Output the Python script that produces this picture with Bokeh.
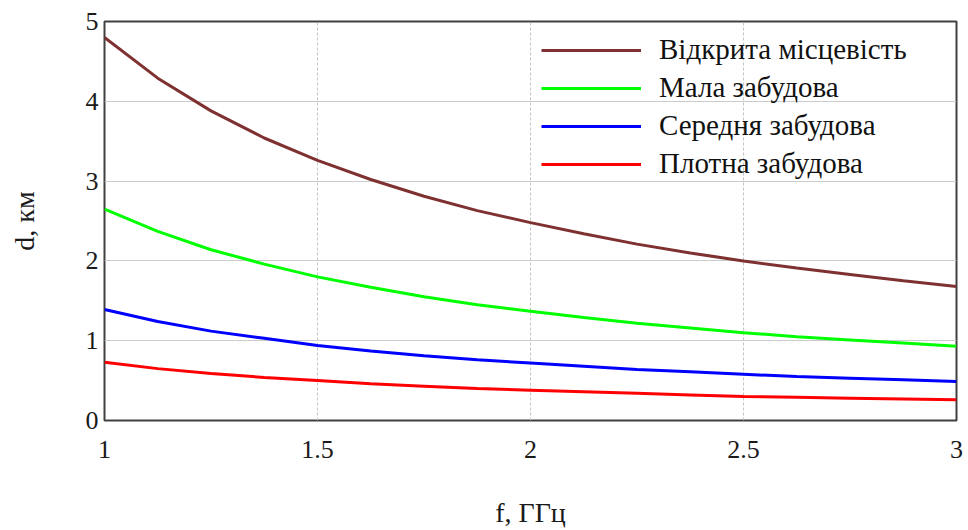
from bokeh.plotting import figure
from bokeh.models import Legend, LegendItem, Range1d, FixedTicker
from bokeh.embed import file_html
from bokeh.resources import INLINE

# Frequency, GHz
freq = [1.0, 1.125, 1.25, 1.375, 1.5, 1.625, 1.75, 1.875, 2.0,
        2.125, 2.25, 2.375, 2.5, 2.625, 2.75, 2.875, 3.0]
# Distance, km
open_area = [4.80, 4.29, 3.88, 3.54, 3.26, 3.02, 2.81, 2.63, 2.48,
             2.34, 2.21, 2.10, 2.00, 1.91, 1.83, 1.75, 1.68]
low_build = [2.65, 2.37, 2.14, 1.96, 1.80, 1.67, 1.55, 1.45, 1.37,
             1.29, 1.22, 1.16, 1.10, 1.05, 1.01, 0.97, 0.93]
mid_build = [1.39, 1.24, 1.12, 1.03, 0.94, 0.87, 0.81, 0.76, 0.72,
             0.68, 0.64, 0.61, 0.58, 0.55, 0.53, 0.51, 0.49]
dense_build = [0.73, 0.65, 0.59, 0.54, 0.50, 0.46, 0.43, 0.40, 0.38,
               0.36, 0.34, 0.32, 0.30, 0.29, 0.28, 0.27, 0.26]

series_names = ["Відкрита місцевість", "Мала забудова", "Середня забудова", "Плотна забудова"]
series_colors = ["#7f3030", "#00ff00", "#0000ff", "#ff0000"]
x_ticks = [1, 1.5, 2, 2.5, 3]
y_ticks = [0, 1, 2, 3, 4, 5]

FONT = "Liberation Serif"

p = figure(width=964, height=530, output_backend="svg", toolbar_location=None,
           x_range=Range1d(1, 3), y_range=Range1d(0, 5),
           min_border_left=104, min_border_right=8, min_border_top=21, min_border_bottom=109)
p.background_fill_color = "white"
p.border_fill_color = "white"
p.outline_line_color = "#404040"
p.outline_line_width = 2

p.xaxis.ticker = FixedTicker(ticks=x_ticks)
p.yaxis.ticker = FixedTicker(ticks=y_ticks)
for ax in (p.xaxis[0], p.yaxis[0]):
    ax.axis_line_color = None
    ax.major_tick_line_color = None
    ax.minor_tick_line_color = None
    ax.major_tick_out = 0
    ax.major_tick_in = 0
    ax.major_label_text_font = FONT
    ax.major_label_text_font_size = "26px"
    ax.major_label_text_color = "#1a1a1a"
    ax.axis_label_text_font = FONT
    ax.axis_label_text_font_size = "28px"
    ax.axis_label_text_font_style = "normal"
    ax.axis_label_text_color = "#1a1a1a"

p.xaxis.axis_label = "f, ГГц"
p.yaxis.axis_label = "d, км"
p.xaxis.major_label_standoff = 20
p.yaxis.major_label_standoff = 6
p.xaxis.axis_label_standoff = 36
p.yaxis.axis_label_standoff = 43

p.xgrid.ticker = FixedTicker(ticks=x_ticks)
p.ygrid.ticker = FixedTicker(ticks=y_ticks)
p.xgrid.grid_line_color = "#c4c4c4"
p.xgrid.grid_line_dash = "3 2"
p.ygrid.grid_line_color = "#cccccc"
p.xgrid.grid_line_width = 1
p.ygrid.grid_line_width = 1

items = []
for name, color, ys in zip(series_names, series_colors,
                           [open_area, low_build, mid_build, dense_build]):
    r = p.line(freq, ys, line_color=color, line_width=3)
    items.append(LegendItem(label=name, renderers=[r]))

legend = Legend(items=items, location=(437, 240))
legend.background_fill_alpha = 0
legend.border_line_color = None
legend.label_text_font = FONT
legend.label_text_font_size = "29px"
legend.label_text_color = "#111111"
legend.glyph_width = 100
legend.glyph_height = 30
legend.label_height = 30
legend.spacing = 5
legend.padding = 10
legend.label_standoff = 18
legend.margin = 0
p.add_layout(legend, "center")

open("out.html", "w").write(file_html(p, INLINE))
